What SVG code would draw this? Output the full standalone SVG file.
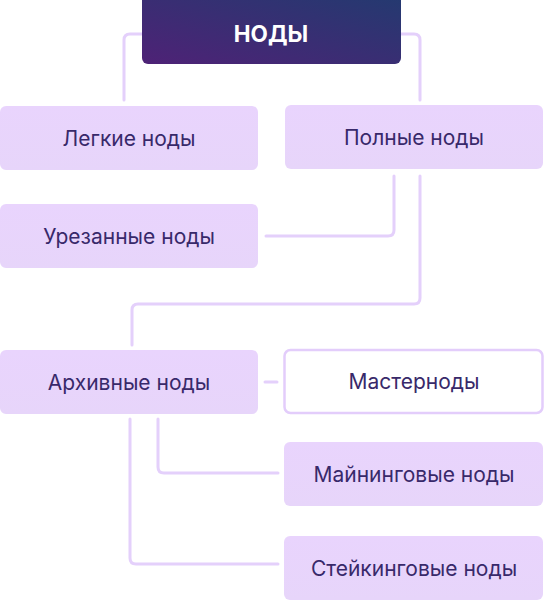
<svg xmlns="http://www.w3.org/2000/svg" width="545" height="600" viewBox="0 0 545 600">
<defs>
<linearGradient id="gTop" x1="0" y1="1" x2="1" y2="0">
<stop offset="0" stop-color="#4e2276"/>
<stop offset="1" stop-color="#233a70"/>
</linearGradient>
<linearGradient id="gBox" x1="0" y1="0" x2="0" y2="1">
<stop offset="0" stop-color="#e9d4fd"/>
<stop offset="1" stop-color="#e7d5fa"/>
</linearGradient>
</defs>
<style>
.box{fill:url(#gBox)}
.lbl{font-family:Inter,"Liberation Sans",sans-serif;font-size:21px;fill:#38296a;text-anchor:middle;dominant-baseline:central}
.ttl{font-family:Inter,"Liberation Sans",sans-serif;font-size:22.5px;font-weight:700;fill:#ffffff;text-anchor:middle;dominant-baseline:central}
.ln{fill:none;stroke:#e4d0fb;stroke-width:3;stroke-linecap:round;stroke-linejoin:round}
</style>
<g id="connectors">
<path class="ln" d="M142 34 H130 Q124 34 124 40 V100"/>
<path class="ln" d="M401 34 H414 Q420 34 420 40 V100"/>
<path class="ln" d="M394 176 V230 Q394 236 388 236 H266"/>
<path class="ln" d="M420 176 V298 Q420 304 414 304 H138 Q132 304 132 310 V345"/>
<path class="ln" d="M265 382 H277"/>
<path class="ln" d="M158 419 V467 Q158 473 164 473 H278"/>
<path class="ln" d="M130 419 V558 Q130 564 136 564 H278"/>
</g>
<g id="n-top">
<rect x="142" y="-6" width="259" height="70" rx="6" fill="url(#gTop)"/>
<text class="ttl" x="271" y="33">НОДЫ</text>
</g>
<g id="n-light">
<rect class="box" x="0" y="106" width="258" height="64" rx="6"/>
<text class="lbl" x="129" y="138">Легкие ноды</text>
</g>
<g id="n-full">
<rect class="box" x="285" y="105" width="258" height="64" rx="6"/>
<text class="lbl" x="414" y="137">Полные ноды</text>
</g>
<g id="n-pruned">
<rect class="box" x="0" y="204" width="258" height="64" rx="6"/>
<text class="lbl" x="129" y="236">Урезанные ноды</text>
</g>
<g id="n-archive">
<rect class="box" x="0" y="350" width="258" height="64" rx="6"/>
<text class="lbl" x="129" y="382">Архивные ноды</text>
</g>
<g id="n-master">
<rect x="284.5" y="350" width="258" height="63" rx="6" fill="#ffffff" stroke="#e3cdfb" stroke-width="2.5"/>
<text class="lbl" x="414" y="381">Мастерноды</text>
</g>
<g id="n-mining">
<rect class="box" x="284" y="442" width="259" height="64" rx="6"/>
<text class="lbl" x="414" y="474">Майнинговые ноды</text>
</g>
<g id="n-staking">
<rect class="box" x="284" y="536" width="259" height="64" rx="6"/>
<text class="lbl" x="414" y="568">Стейкинговые ноды</text>
</g>
</svg>
